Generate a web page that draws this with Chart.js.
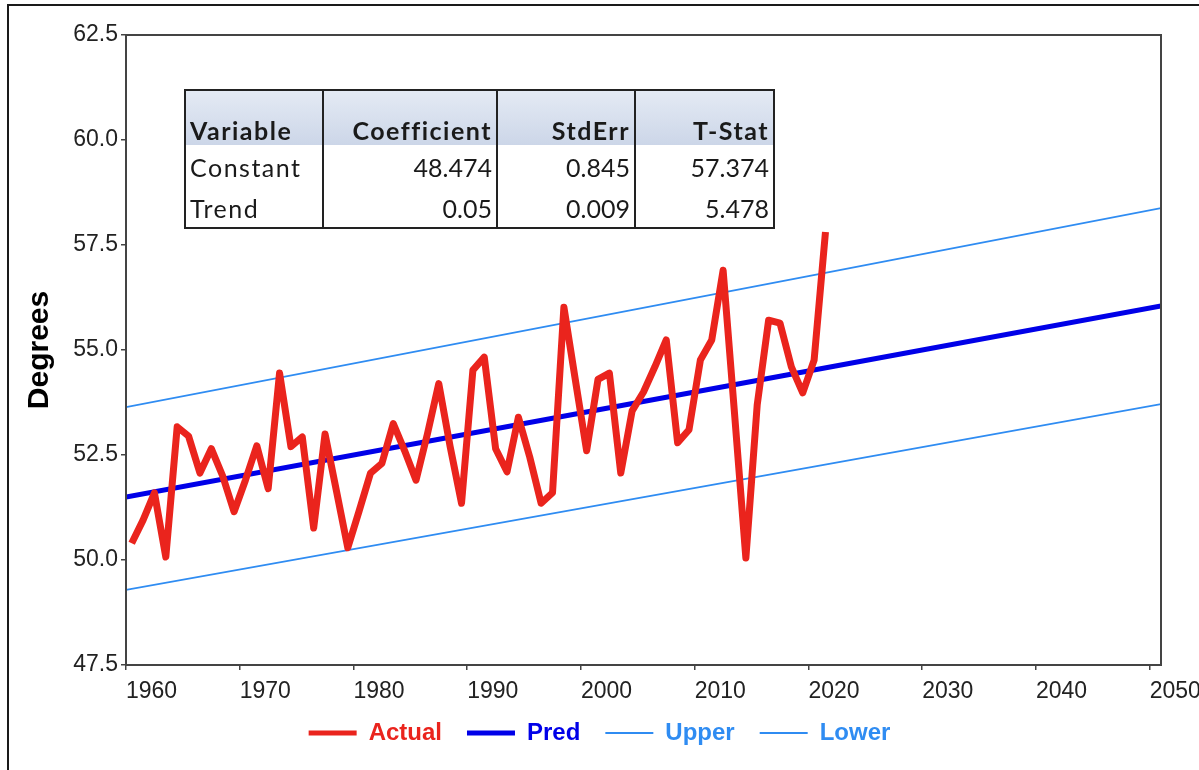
<!DOCTYPE html>
<html>
<head>
<meta charset="utf-8">
<script src="https://cdn.jsdelivr.net/npm/chart.js@4.4.1/dist/chart.umd.min.js"></script>
<style>
  html, body { margin: 0; padding: 0; background: #fff; overflow: hidden; }
  #wrap { position: relative; width: 1199px; height: 770px; }
  #frame {
    position: absolute; left: 7px; top: 4px; right: -4px; bottom: -4px;
    border-top: 2px solid #1a1a1a; border-left: 2px solid #1a1a1a;
    pointer-events: none;
  }
  #stats {
    position: absolute; left: 184px; top: 89px;
    border-collapse: collapse; table-layout: fixed; width: 589px;
    border: 2px solid #222;
    font-family: Lato, "Open Sans", sans-serif; font-size: 25px; color: #1a1a1a;
  }
  #stats th, #stats td {
    border-left: 2px solid #222; border-right: 2px solid #222;
    padding: 0 4px; text-align: right; white-space: nowrap; overflow: hidden;
  }
  #stats th:first-child, #stats td:first-child { text-align: left; letter-spacing: 1.5px; }
  #stats th {
    height: 54px; vertical-align: bottom; padding-bottom: 0;
    background: linear-gradient(#e4eaf4, #ccd6e8);
    font-weight: bold; letter-spacing: 1.5px;
  }
  #stats td { height: 39px; padding-top: 2px; }
</style>
</head>
<body>
<div id="wrap">
  <canvas id="trend-chart"></canvas>
  <table id="stats">
    <colgroup><col style="width:138px"><col style="width:174px"><col style="width:138px"><col style="width:139px"></colgroup>
    <thead><tr id="stats-head"></tr></thead>
    <tbody id="stats-body"></tbody>
  </table>
  <div id="frame"></div>
</div>
<script>
// ---- data ----
const years = [1960, 1961, 1962, 1963, 1964, 1965, 1966, 1967, 1968, 1969,
               1970, 1971, 1972, 1973, 1974, 1975, 1976, 1977, 1978, 1979,
               1980, 1981, 1982, 1983, 1984, 1985, 1986, 1987, 1988, 1989,
               1990, 1991, 1992, 1993, 1994, 1995, 1996, 1997, 1998, 1999,
               2000, 2001, 2002, 2003, 2004, 2005, 2006, 2007, 2008, 2009,
               2010, 2011, 2012, 2013, 2014, 2015, 2016, 2017, 2018, 2019,
               2020, 2021];
const actual = [50.40, 50.95, 51.60, 50.07, 53.17, 52.95, 52.07, 52.65, 52.00, 51.15,
                51.90, 52.72, 51.70, 54.45, 52.70, 52.93, 50.76, 53.00, 51.65, 50.29,
                51.17, 52.07, 52.30, 53.25, 52.60, 51.90, 53.00, 54.20, 52.70, 51.35,
                54.52, 54.83, 52.65, 52.10, 53.40, 52.45, 51.35, 51.60, 56.02, 54.30,
                52.60, 54.30, 54.45, 52.07, 53.55, 54.00, 54.60, 55.24, 52.79, 53.10,
                54.76, 55.24, 56.90, 53.50, 50.05, 53.70, 55.71, 55.64, 54.60, 53.98,
                54.76, 57.81];

// fitted line and its band, read at a few years
const fitYears = [1960, 2020, 2051];
const pred = [51.50, 54.50, 56.05];
const upper = [53.64, 56.76, 58.38];
const lower = [49.29, 52.20, 53.71];

const xTicks = [1960, 1970, 1980, 1990, 2000, 2010, 2020, 2030, 2040, 2050];
const yTicks = [47.5, 50.0, 52.5, 55.0, 57.5, 60.0, 62.5];

const tableHead = ['Variable', 'Coefficient', 'StdErr', 'T-Stat'];
const tableRows = [
    ['Constant', '48.474', '0.845', '57.374'],
    ['Trend', '0.05', '0.009', '5.478']
];

// ---- regression table ----
document.getElementById('stats-head').innerHTML =
    tableHead.map(h => `<th>${h}</th>`).join('');
document.getElementById('stats-body').innerHTML =
    tableRows.map(r => '<tr>' + r.map(c => `<td>${c}</td>`).join('') + '</tr>').join('');

// ---- chart ----
Chart.defaults.font.family = '"Liberation Sans", Arial, sans-serif';

const toPoints = (xs, ys) => xs.map((x, i) => ({ x: x, y: ys[i] }));

// box round the plot area (Chart.js only draws the left and bottom borders)
const plotFrame = {
    id: 'plotFrame',
    afterLayout(chart) {
        // wide legend spacing but keep the row tucked up under the tick labels
        chart.legend.top -= 9;
        chart.legend.bottom -= 9;
    },
    afterDatasetsDraw(chart) {
        const { ctx, chartArea: a } = chart;
        ctx.save();
        ctx.strokeStyle = '#444';
        ctx.lineWidth = 2;
        ctx.strokeRect(a.left, a.top, a.right - a.left, a.bottom - a.top);
        ctx.restore();
    }
};

new Chart(document.getElementById('trend-chart'), {
    type: 'line',
    data: {
        datasets: [
            {
                label: 'Actual',
                // yearly means sit half way through the year
                data: years.map((yr, i) => ({ x: yr + 0.5, y: actual[i] })),
                borderColor: '#ea241d',
                borderWidth: 7,
                borderJoinStyle: 'round',
                legendWidth: 5
            },
            {
                label: 'Pred',
                data: toPoints(fitYears, pred),
                borderColor: '#0000e8',
                borderWidth: 5,
                legendWidth: 5
            },
            {
                label: 'Upper',
                data: toPoints(fitYears, upper),
                borderColor: '#2f8cf2',
                borderWidth: 1.8,
                legendWidth: 2
            },
            {
                label: 'Lower',
                data: toPoints(fitYears, lower),
                borderColor: '#2f8cf2',
                borderWidth: 1.8,
                legendWidth: 2
            }
        ]
    },
    options: {
        responsive: true,
        maintainAspectRatio: false,
        animation: false,
        devicePixelRatio: 1,
        elements: { point: { radius: 0 }, line: { tension: 0 } },
        layout: { padding: { top: 35, bottom: 6, left: 0, right: 0 } },
        plugins: {
            tooltip: { enabled: false },
            legend: {
                position: 'bottom',
                labels: {
                    usePointStyle: true,
                    pointStyleWidth: 48,
                    padding: 25,
                    font: { size: 24, weight: 'bold' },
                    generateLabels: chart => chart.data.datasets.map((ds, i) => ({
                        text: ds.label,
                        datasetIndex: i,
                        pointStyle: 'line',
                        strokeStyle: ds.borderColor,
                        fillStyle: ds.borderColor,
                        fontColor: ds.borderColor,
                        lineWidth: ds.legendWidth
                    }))
                }
            }
        },
        scales: {
            x: {
                type: 'linear',
                min: 1960,
                max: 2051,
                afterBuildTicks: axis => { axis.ticks = xTicks.map(v => ({ value: v })); },
                afterFit: axis => {
                    axis.height = 40;
                    axis.paddingLeft = 0;
                    axis.paddingRight = 38;
                },
                grid: { drawOnChartArea: false, drawTicks: true, tickLength: 5, color: '#444', lineWidth: 1.5 },
                border: { display: true, color: '#444', width: 2 },
                ticks: {
                    align: 'start',
                    autoSkip: false,
                    maxRotation: 0,
                    padding: 8,
                    color: '#222',
                    font: { size: 23 },
                    callback: v => String(v)
                }
            },
            y: {
                min: 47.5,
                max: 62.5,
                afterBuildTicks: axis => { axis.ticks = yTicks.map(v => ({ value: v })); },
                afterFit: axis => { axis.width = 126; },
                grid: { drawOnChartArea: false, drawTicks: true, tickLength: 5, color: '#444', lineWidth: 1.5 },
                border: { display: true, color: '#444', width: 2 },
                ticks: {
                    padding: 3,
                    color: '#222',
                    font: { size: 23 },
                    callback: v => v.toFixed(1)
                },
                title: {
                    display: true,
                    text: 'Degrees',
                    color: '#000',
                    font: { size: 30, weight: 'bold' },
                    padding: { top: 22, bottom: 0 }
                }
            }
        }
    },
    plugins: [plotFrame]
});
</script>
</body>
</html>
